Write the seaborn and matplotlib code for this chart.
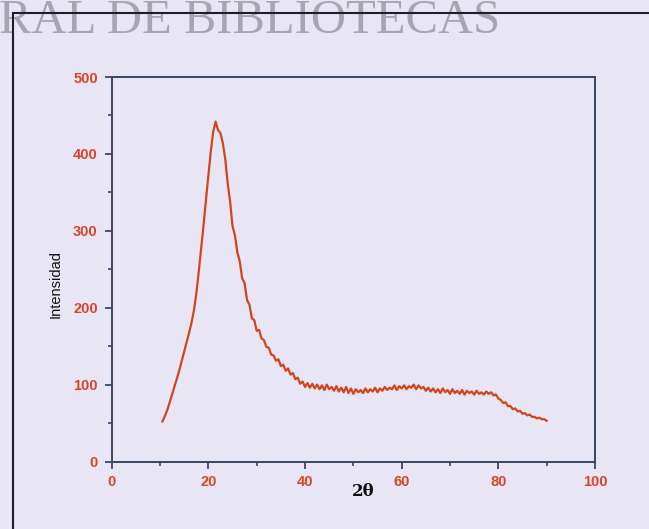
import numpy as np
import pandas as pd
import matplotlib
matplotlib.use("Agg")
import matplotlib.pyplot as plt
from matplotlib.patches import Rectangle
from matplotlib.ticker import MultipleLocator
import seaborn as sns

# ---- data ----
two_theta_start = 10.5
two_theta_step = 0.5
intensity = [
    52, 59, 67, 77, 87, 98, 108, 119, 131, 143,
    155, 167, 180, 196, 218, 246, 276, 307, 340, 371,
    403, 429, 442, 431, 427, 414, 393, 362, 338, 306,
    294, 272, 260, 238, 232, 210, 204, 186, 184, 170,
    171, 160, 158, 149, 148, 139, 138, 131, 133, 124,
    126, 118, 121, 113, 115, 107, 109, 101, 104, 97,
    102, 96, 101, 95, 100, 94, 99, 93, 100, 94,
    97, 92, 98, 91, 96, 90, 97, 89, 95, 88,
    94, 90, 93, 89, 95, 90, 94, 91, 96, 90,
    95, 92, 97, 93, 96, 94, 99, 93, 98, 95,
    99, 94, 98, 96, 100, 94, 99, 95, 97, 92,
    96, 91, 95, 90, 94, 89, 95, 90, 93, 88,
    94, 89, 92, 88, 93, 87, 92, 89, 91, 87,
    92, 88, 90, 87, 91, 88, 90, 86, 87, 82,
    80, 76, 77, 72, 72, 68, 69, 65, 66, 62,
    63, 60, 61, 58, 58, 56, 57, 55, 55, 53,
]
two_theta = two_theta_start + two_theta_step * np.arange(len(intensity))
x_ticks = [0, 20, 40, 60, 80, 100]
y_ticks = [0, 100, 200, 300, 400, 500]
x_label = "2θ"
y_label = "Intensidad"
watermark = "RAL DE BIBLIOTECAS"

df = pd.DataFrame({"two_theta": two_theta, "intensity": intensity})

# ---- style ----
bg = "#e8e6f4"
spine_col = "#3a4560"
tick_col = "#d8442c"
line_col = "#d2451c"

W, H = 649, 529
fig = plt.figure(figsize=(W / 100, H / 100), dpi=100)
fig.patch.set_facecolor(bg)

# watermark text at top
fig.text(500 / W, 1 - 33 / H, watermark, ha="right", va="baseline",
         fontsize=35, family="Liberation Serif", color="#a6a5b0", zorder=0)

# outer frame
fig.patches.append(Rectangle((13 / W, -0.2), 1.2, 1.2 - 13 / H,
                             transform=fig.transFigure, fill=False,
                             edgecolor="#1e1e26", linewidth=1.5, zorder=1))

left, right = 111.7 / W, 595 / W
bottom, top = 1 - 461.5 / H, 1 - 77 / H
ax = fig.add_axes([left, bottom, right - left, top - bottom])
ax.set_facecolor("none")

sns.lineplot(data=df, x="two_theta", y="intensity", ax=ax,
             color=line_col, linewidth=1.6, estimator=None)

ax.set_xlim(0, 100)
ax.set_ylim(0, 500)
ax.set_xticks(x_ticks)
ax.set_yticks(y_ticks)
ax.xaxis.set_minor_locator(MultipleLocator(10))
ax.yaxis.set_minor_locator(MultipleLocator(50))

for s in ax.spines.values():
    s.set_color(spine_col)
    s.set_linewidth(1.4)

ax.tick_params(which="major", direction="out", length=5, width=1.3,
               color=spine_col, labelsize=10.5, labelcolor=tick_col)
ax.tick_params(which="minor", direction="out", length=3, width=1.2,
               color=spine_col)
ax.tick_params(axis="y", pad=5)
ax.tick_params(axis="x", pad=5)
for lab in ax.get_xticklabels() + ax.get_yticklabels():
    lab.set_family("Liberation Sans")
    lab.set_fontweight("bold")

ax.set_xlabel("")
ax.set_ylabel("")
fig.text(56 / W, 1 - 284 / H, y_label, rotation=90, ha="center", va="center",
         fontsize=10.5, family="Liberation Sans", color="#111111")
fig.text(363 / W, 1 - 491 / H, x_label, ha="center", va="center",
         fontsize=12, fontweight="bold", family="DejaVu Serif", color="#111111")

fig.savefig("out.png", dpi=100, facecolor=bg)
